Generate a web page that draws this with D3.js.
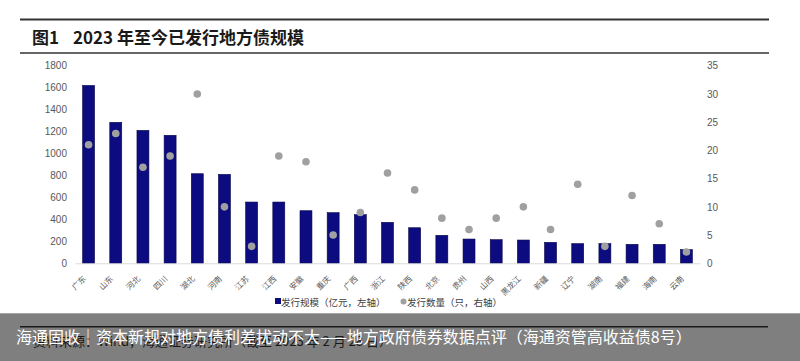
<!DOCTYPE html>
<html><head><meta charset="utf-8">
<script src="https://cdn.jsdelivr.net/npm/d3@7"></script>
<style>body{margin:0;background:#fff;}svg{display:block;}</style>
</head><body>
<svg id="c" width="800" height="361"></svg>
<script>
const categories = ["广东","山东","河北","四川","湖北","河南","江苏","江西","安徽","重庆","广西","浙江","陕西","北京","贵州","山西","黑龙江","新疆","辽宁","湖南","福建","海南","云南"];
const issueAmount = [1620,1284,1211,1166,816,810,558,558,479,461,443,373,324,255,221,215,212,191,179,179,173,173,124];
const issueCount = [21,23,17,19,30,10,3,19,18,5,9,16,13,8,6,8,10,6,14,3,12,7,2];
const leftTicks = [0,200,400,600,800,1000,1200,1400,1600,1800];
const rightTicks = [0,5,10,15,20,25,30,35];
const titleText = ["图1", "2023 年至今已发行地方债规模"];
const legendLabels = ["发行规模（亿元，左轴）", "发行数量（只，右轴）"];
const sourceText = "资料来源：Wind，海通证券研究所（截至 2023 年 2 月 28 日）";
const bannerText = "海通固收｜资本新规对地方债利差扰动不大——地方政府债券数据点评（海通资管高收益债8号）";

(function(){
const svg = d3.select("#c");
const font = "'Noto Sans CJK SC', 'Noto Sans', sans-serif";
const pL = 75, pR = 700, pT = 65.7, pB = 263.3;

svg.append("line").attr("x1",20).attr("x2",769).attr("y1",19.5).attr("y2",19.5).attr("stroke","#333").attr("stroke-width",2);
svg.append("line").attr("x1",20).attr("x2",769).attr("y1",53).attr("y2",53).attr("stroke","#333").attr("stroke-width",1.6);
svg.append("text").attr("x",32).attr("y",44).attr("font-family",font).attr("font-weight","bold").attr("font-size",17).attr("fill","#1a1a1a").text(titleText[0]);
svg.append("text").attr("x",73).attr("y",44).attr("font-family",font).attr("font-weight","bold").attr("font-size",17).attr("fill","#1a1a1a").text(titleText[1]);

const x = d3.scaleBand().domain(categories).range([pL,pR]).padding(0);
const yL = d3.scaleLinear().domain([0,1800]).range([pB,pT]);
const yR = d3.scaleLinear().domain([0,35]).range([pB,pT]);

const axL = d3.axisLeft(yL).tickValues(leftTicks).tickFormat(d3.format("d")).tickSize(0).tickPadding(0);
const gL = svg.append("g").attr("transform",`translate(${pL-8},0)`).call(axL);
gL.select(".domain").remove();
gL.selectAll("text").attr("font-family","Arial, 'Liberation Sans', sans-serif").attr("font-size",10).attr("fill","#595959");

const axR = d3.axisRight(yR).tickValues(rightTicks).tickFormat(d3.format("d")).tickSize(0).tickPadding(0);
const gR = svg.append("g").attr("transform",`translate(${pR+7},0)`).call(axR);
gR.select(".domain").remove();
gR.selectAll("text").attr("font-family","Arial, 'Liberation Sans', sans-serif").attr("font-size",10).attr("fill","#595959");

const bw = x.bandwidth()*0.44;
svg.append("g").selectAll("rect").data(categories).join("rect")
  .attr("x",(d)=>x(d)+x.bandwidth()/2-bw/2)
  .attr("y",(d,i)=>yL(issueAmount[i]))
  .attr("width",bw)
  .attr("height",(d,i)=>pB-yL(issueAmount[i]))
  .attr("fill","#0c0c80").attr("stroke","#06064a").attr("stroke-width",0.6);

const axB = d3.axisBottom(x).tickSize(0).tickFormat("");
const gB = svg.append("g").attr("transform",`translate(0,${pB})`).call(axB);
gB.select(".domain").attr("stroke","#d9d9d9");

svg.append("g").selectAll("circle").data(categories).join("circle")
  .attr("cx",(d)=>x(d)+x.bandwidth()/2)
  .attr("cy",(d,i)=>yR(issueCount[i]))
  .attr("r",3.8).attr("fill","#a0a0a0");

svg.append("g").selectAll("text").data(categories).join("text")
  .attr("transform",(d)=>`translate(${x(d)+x.bandwidth()/2-2},${pB+16}) rotate(-45)`)
  .attr("text-anchor","end")
  .attr("font-family",font).attr("font-size",8).attr("fill","#595959")
  .text(d=>d);

svg.append("rect").attr("x",275).attr("y",298).attr("width",6).attr("height",6).attr("fill","#0c0c80");
svg.append("text").attr("x",281).attr("y",306).attr("font-family",font).attr("font-size",9.5).attr("fill","#404040").text(legendLabels[0]);
svg.append("circle").attr("cx",403.5).attr("cy",301.5).attr("r",3).attr("fill","#a0a0a0");
svg.append("text").attr("x",407).attr("y",306).attr("font-family",font).attr("font-size",9.5).attr("fill","#404040").text(legendLabels[1]);

svg.append("line").attr("x1",20).attr("x2",768).attr("y1",326.7).attr("y2",326.7).attr("stroke","#000").attr("stroke-width",1.5);
svg.append("text").attr("x",33).attr("y",346).attr("font-family",font).attr("font-size",13).attr("fill","#000").text(sourceText);

svg.append("rect").attr("x",0).attr("y",313.3).attr("width",800).attr("height",48).attr("fill","#2a2a2a").attr("opacity",0.6);
svg.append("text").attr("x",16).attr("y",342.5).attr("font-family",font).attr("font-size",16).attr("fill","#fff").text(bannerText);
})();
</script>
</body></html>
